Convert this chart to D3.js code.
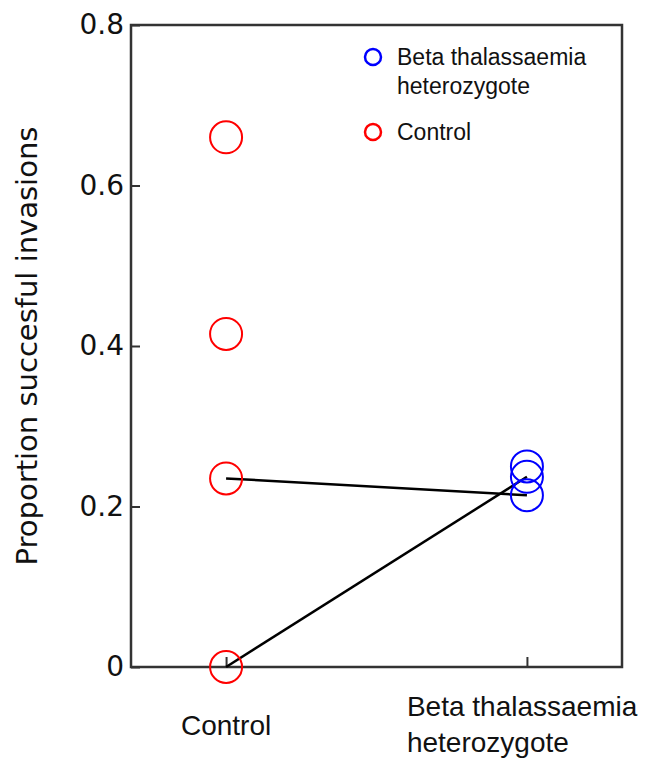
<!DOCTYPE html>
<html>
<head>
<meta charset="utf-8">
<script src="https://cdn.jsdelivr.net/npm/d3@7"></script>
<style>
  body { margin: 0; background: #fff; }
</style>
</head>
<body>
<script>
// data
var groups = ["Control", "Beta thalassaemia heterozygote"],
	groupPos = [1, 2];
var controlValues = [0.66, 0.415, 0.235, 0],
	betaValues = [0.25, 0.237, 0.214];
// paired samples joined by lines: [control, beta]
var pairFrom = [0.235, 0],
	pairTo = [0.214, 0.237];
var yTicks = [0, 0.2, 0.4, 0.6, 0.8],
	yTickLabels = ["0", "0.2", "0.4", "0.6", "0.8"];

var margin = {top: 25, right: 28, bottom: 93, left: 131},
	width = 650 - margin.left - margin.right,
	height = 760 - margin.top - margin.bottom;

var x = d3.scaleLinear()
	.domain([0.684, 2.316])
	.range([0, width]);

var y = d3.scaleLinear()
	.domain([0, 0.8])
	.range([height, 0]);

var svg = d3.select('body')
	.append('svg')
	.attr('width', 650)
	.attr('height', 760);

var main = svg.append('g')
	.attr('transform', 'translate(' + margin.left + ',' + margin.top + ')');

// axes (ticks point inward)
var yAxis = d3.axisLeft(y)
	.tickValues(yTicks)
	.tickFormat(function(d, i) { return yTickLabels[i]; })
	.tickSizeInner(-9)
	.tickSizeOuter(0)
	.tickPadding(7);

main.append('g')
	.attr('class', 'axis y')
	.call(yAxis);

var xAxis = d3.axisBottom(x)
	.tickValues(groupPos)
	.tickFormat('')
	.tickSizeInner(-10)
	.tickSizeOuter(0);

main.append('g')
	.attr('transform', 'translate(0,' + height + ')')
	.attr('class', 'axis x')
	.call(xAxis);

main.selectAll('.axis path').remove();
main.selectAll('.axis line').attr('stroke', '#333').attr('stroke-width', 2);
main.selectAll('.axis.y text')
	.attr('font-family', 'DejaVu Sans')
	.attr('font-size', 28)
	.attr('fill', '#111');

// frame
main.append('rect')
	.attr('x', 0)
	.attr('y', 0)
	.attr('width', width)
	.attr('height', height)
	.attr('fill', 'none')
	.attr('stroke', '#333')
	.attr('stroke-width', 2.5);

// x category labels
main.append('text')
	.attr('x', x(groupPos[0]))
	.attr('y', height + 68)
	.attr('text-anchor', 'middle')
	.attr('font-family', 'Liberation Sans, Arial')
	.attr('font-size', 28)
	.attr('fill', '#111')
	.text(groups[0]);

var betaLab = main.append('text')
	.attr('x', x(groupPos[1]) - 120)
	.attr('y', height + 49)
	.attr('font-family', 'Liberation Sans, Arial')
	.attr('font-size', 28)
	.attr('fill', '#111');
betaLab.append('tspan').text('Beta thalassaemia');
betaLab.append('tspan')
	.attr('x', x(groupPos[1]) - 120)
	.attr('dy', 36)
	.text('heterozygote');

// y label
svg.append('text')
	.attr('transform', 'translate(37,' + (margin.top + height / 2) + ') rotate(-90)')
	.attr('text-anchor', 'middle')
	.attr('font-family', 'DejaVu Sans')
	.attr('font-size', 29)
	.attr('fill', '#111')
	.text('Proportion succesful invasions');

// lines between paired samples
main.selectAll('line.pair')
	.data(pairFrom)
	.enter().append('line')
		.attr('class', 'pair')
		.attr('x1', x(groupPos[0]))
		.attr('y1', function(d) { return y(d); })
		.attr('x2', x(groupPos[1]))
		.attr('y2', function(d, i) { return y(pairTo[i]); })
		.attr('stroke', '#000')
		.attr('stroke-width', 2.5);

// points
main.selectAll('circle.ctrl')
	.data(controlValues)
	.enter().append('circle')
		.attr('class', 'ctrl')
		.attr('cx', x(groupPos[0]))
		.attr('cy', function(d) { return y(d); })
		.attr('r', 16)
		.attr('fill', 'none')
		.attr('stroke', '#ff0000')
		.attr('stroke-width', 2);

main.selectAll('circle.beta')
	.data(betaValues)
	.enter().append('circle')
		.attr('class', 'beta')
		.attr('cx', x(groupPos[1]))
		.attr('cy', function(d) { return y(d); })
		.attr('r', 16)
		.attr('fill', 'none')
		.attr('stroke', '#0000ff')
		.attr('stroke-width', 2);

// legend
var legend = svg.append('g').attr('transform', 'translate(373,57)');
legend.append('circle').attr('r', 8).attr('fill', 'none').attr('stroke', '#0000ff').attr('stroke-width', 2.5);
var lt = legend.append('text')
	.attr('x', 24)
	.attr('y', 8)
	.attr('font-family', 'Liberation Sans, Arial')
	.attr('font-size', 23)
	.attr('fill', '#111');
lt.append('tspan').text('Beta thalassaemia');
lt.append('tspan').attr('x', 24).attr('dy', 29).text('heterozygote');

legend.append('circle').attr('cy', 75).attr('r', 8).attr('fill', 'none').attr('stroke', '#ff0000').attr('stroke-width', 2.5);
legend.append('text')
	.attr('x', 24)
	.attr('y', 83)
	.attr('font-family', 'Liberation Sans, Arial')
	.attr('font-size', 23)
	.attr('fill', '#111')
	.text('Control');
</script>
</body>
</html>
